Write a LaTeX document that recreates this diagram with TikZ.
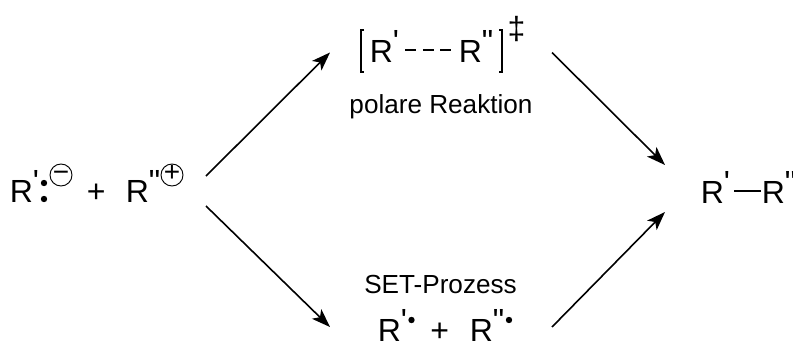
\documentclass[tikz,border=0pt]{standalone}
\usepackage{fontspec}
\setmainfont{Liberation Sans}[Ligatures=TeXOff]
\usetikzlibrary{arrows.meta}

\newcommand{\hochz}[1]{\raisebox{7.5pt}{#1}}

\tikzset{
  rest/.style={inner sep=0pt, anchor=base west, text height=18pt, text depth=0pt, font=\fontsize{24}{24}\selectfont},
  zeichen/.style={inner sep=0pt, anchor=base west, font=\fontsize{24}{24}\selectfont},
  beschr/.style={inner sep=0pt, anchor=base, font=\fontsize{19.6}{20}\selectfont},
  punkt/.style={circle, fill=black, inner sep=0pt, minimum size=4.8pt},
  ladung/.style={circle, draw, line width=0.7pt, inner sep=0pt, minimum size=16.5pt, text height=10pt, text depth=0pt, font=\fontsize{21}{21}\selectfont},
  block/.style={inner sep=0pt, outer sep=0pt},
  pfeil/.style={-{Stealth[length=14pt,width=10pt,inset=3.5pt]}, line width=1.2pt}
}

\begin{document}
\begin{tikzpicture}[x=.75pt,y=-.75pt]
\useasboundingbox (0,0) rectangle (793,343);

% Ausgangsstoffe
\node[block, minimum width=145.5pt, minimum height=22.5pt] (educt) at (109,191) {};
\node[rest] (ra) at (9.5,202) {R\hochz{'}};
\node[punkt] (pa) at (44,183) {};
\node[punkt] (pb) at (44,199) {};
\node[ladung] (minus) at (61,175) {−};
\node[zeichen] (plusa) at (86.5,202) {+};
\node[rest] (rb) at (125.5,202) {R\hochz{"}};
\node[ladung] (plus) at (172,175) {+};

% Uebergangszustand
\node[block, minimum width=166.5pt] (ts) at (441,52.5) {};
\node[rest] (tsa) at (369.5,62) {R\hochz{'}};
\node[rest] (tsb) at (458.5,62) {R\hochz{"}};
\node[zeichen, anchor=center] (dagger) at (516.5,29) {‡};
\node[beschr] (polar) at (441,113) {polare Reaktion};
\draw[line width=0.8pt] (364,30) -- (361,30) -- (361,72) -- (364,72);
\draw[line width=0.8pt] (499,30) -- (502,30) -- (502,72) -- (499,72);
\draw[line width=1.9pt, dash pattern=on 8.25pt off 4.9pt, shorten <=4.5pt, shorten >=5.6pt] (tsa.east) -- (tsb.west);

% Radikale
\node[block, minimum width=166.5pt] (radikale) at (441,327) {};
\node[beschr] (set) at (440.5,293) {SET-Prozess};
\node[rest] (rc) at (377.5,341) {R\hochz{'}};
\node[punkt] (pc) at (411.5,320) {};
\node[zeichen] (plusb) at (430,341) {+};
\node[rest] (rd) at (469.5,341) {R\hochz{"}};
\node[punkt] (pd) at (509,320) {};

% Produkt
\node[block, minimum width=90pt, minimum height=35.25pt] (produkt) at (725,188.5) {};
\node[rest] (re) at (700.5,203) {R\hochz{'}};
\node[rest] (rf) at (761.5,203) {R\hochz{"}};
\draw[line width=1pt, shorten <=3pt, shorten >=0.5pt] (re.east) -- (rf.west);

% Pfeile
\draw[pfeil] (educt.north east) -- (ts.west);
\draw[pfeil] (educt.south east) -- (radikale.west);
\draw[pfeil] (ts.east) -- (produkt.north west);
\draw[pfeil] (radikale.east) -- (produkt.south west);

\end{tikzpicture}
\end{document}
